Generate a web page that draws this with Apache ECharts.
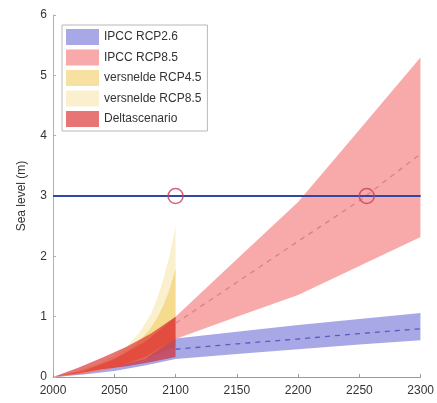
<!DOCTYPE html>
<html>
<head>
<meta charset="utf-8">
<script src="https://cdn.jsdelivr.net/npm/echarts@6/dist/echarts.min.js"></script>
<style>html,body{margin:0;padding:0;background:#fff}#c{width:437px;height:403px}</style>
</head>
<body>
<div id="c"></div>
<script>
// ---- data ----
var yearsIPCC = [2000, 2025, 2050, 2075, 2100, 2150, 2200, 2250, 2300];
var rcp26Low  = [0, 0.04, 0.10, 0.19, 0.30, 0.38, 0.46, 0.54, 0.61];
var rcp26High = [0, 0.07, 0.16, 0.30, 0.64, 0.75, 0.86, 0.96, 1.06];
var rcp85Low  = [0, 0.05, 0.15, 0.33, 0.63, 1.00, 1.36, 1.84, 2.32];
var rcp85High = [0, 0.10, 0.30, 0.58, 1.00, 1.95, 2.90, 4.10, 5.30];

var yearsMedian = [2100, 2150, 2200, 2250, 2300];
var rcp26Mid = [0.46, 0.55, 0.63, 0.72, 0.80];
var rcp85Mid = [0.89, 1.57, 2.25, 2.92, 3.70];

var yearsVers = [2000, 2020, 2040, 2050, 2060, 2070, 2080, 2085, 2090, 2095, 2100];
var vers45Low  = [0, 0.05, 0.12, 0.16, 0.21, 0.27, 0.34, 0.38, 0.42, 0.46, 0.50];
var vers45High = [0, 0.09, 0.22, 0.30, 0.42, 0.58, 0.82, 0.98, 1.18, 1.44, 1.80];
var vers85Low  = [0, 0.05, 0.12, 0.16, 0.21, 0.27, 0.34, 0.38, 0.42, 0.46, 0.50];
var vers85High = [0, 0.10, 0.25, 0.35, 0.50, 0.72, 1.05, 1.30, 1.62, 2.00, 2.50];

var yearsDelta = [2000, 2020, 2040, 2060, 2080, 2100];
var deltaLow  = [0, 0.06, 0.13, 0.18, 0.25, 0.33];
var deltaHigh = [0, 0.15, 0.32, 0.50, 0.72, 1.00];

var thresholdLevel = 3;
var thresholdYears = [2000, 2300];
var crossingYears = [2100, 2256];

var legendNames = ['IPCC RCP2.6', 'IPCC RCP8.5', 'versnelde RCP4.5', 'versnelde RCP8.5', 'Deltascenario'];

// ---- helpers ----
function pairs(xs, ys) { return xs.map(function (x, i) { return [x, ys[i]]; }); }

function band(name, xs, lo, hi, color) {
  var rows = xs.map(function (x, i) { return [x, lo[i], hi[i]]; });
  return {
    name: name, type: 'custom', data: rows, silent: true, z: 2,
    encode: { x: 0, y: [1, 2] },
    itemStyle: { color: color },
    renderItem: function (params, api) {
      if (params.dataIndex !== 0) return null;
      var pts = [];
      for (var i = 0; i < rows.length; i++) pts.push(api.coord([rows[i][0], rows[i][2]]));
      for (var j = rows.length - 1; j >= 0; j--) pts.push(api.coord([rows[j][0], rows[j][1]]));
      return {
        type: 'polygon',
        shape: { points: pts, smooth: 0 },
        style: { fill: color, stroke: null },
        clipPath: { type: 'rect', shape: { x: params.coordSys.x, y: params.coordSys.y, width: params.coordSys.width, height: params.coordSys.height } }
      };
    }
  };
}

var colors = {
  'IPCC RCP2.6': 'rgba(110,110,215,0.6)',
  'IPCC RCP8.5': 'rgba(244,112,112,0.6)',
  'versnelde RCP4.5': 'rgba(240,205,100,0.6)',
  'versnelde RCP8.5': 'rgba(245,228,165,0.55)',
  'Deltascenario': 'rgba(215,25,25,0.6)'
};

var series = [
  band('versnelde RCP8.5', yearsVers, vers85Low, vers85High, colors['versnelde RCP8.5']),
  band('versnelde RCP4.5', yearsVers, vers45Low, vers45High, colors['versnelde RCP4.5']),
  band('IPCC RCP2.6', yearsIPCC, rcp26Low, rcp26High, colors['IPCC RCP2.6']),
  band('IPCC RCP8.5', yearsIPCC, rcp85Low, rcp85High, colors['IPCC RCP8.5']),
  band('Deltascenario', yearsDelta, deltaLow, deltaHigh, colors['Deltascenario'])
];

series.push({ name: '_mid85', type: 'line', data: pairs(yearsMedian, rcp85Mid), symbol: 'none', silent: true,
  lineStyle: { color: '#df7f86', width: 1.3, type: [5, 5] }, z: 3 });
series.push({ name: '_mid26', type: 'line', data: pairs(yearsMedian, rcp26Mid), symbol: 'none', silent: true,
  lineStyle: { color: '#5a5ac4', width: 1.3, type: [5, 5] }, z: 3 });
series.push({ name: '_thr', type: 'line', data: thresholdYears.map(function (x) { return [x, thresholdLevel]; }),
  symbol: 'none', silent: true, lineStyle: { color: '#2f48a8', width: 2 }, z: 4 });
series.push({ name: '_cross', type: 'scatter', data: crossingYears.map(function (x) { return [x, thresholdLevel]; }),
  symbol: 'circle', symbolSize: 15, silent: true,
  itemStyle: { color: 'rgba(0,0,0,0)', borderColor: '#c8405a', borderWidth: 1.6 }, z: 5 });

var chart = echarts.init(document.getElementById('c'), null, { renderer: 'canvas' });
chart.setOption({
  animation: false,
  backgroundColor: '#fff',
  textStyle: { fontFamily: 'Liberation Sans, Arial, sans-serif' },
  grid: { left: 53, right: 14, top: 15, bottom: 26, containLabel: false },
  legend: {
    data: legendNames.map(function (n) { return { name: n, icon: 'rect', itemStyle: { color: colors[n] } }; }),
    orient: 'vertical', left: 62, top: 25,
    itemWidth: 33, itemHeight: 16, itemGap: 4.5,
    padding: [4, 6, 4, 4],
    backgroundColor: '#fff', borderColor: '#b8b8b8', borderWidth: 1,
    textStyle: { fontSize: 12, color: '#333', fontFamily: 'Liberation Sans, Arial, sans-serif' },
    selectedMode: false
  },
  xAxis: {
    type: 'value', min: 2000, max: 2300, interval: 50,
    axisLine: { show: true, lineStyle: { color: '#9a9a9a' } },
    axisTick: { show: true, inside: true, length: 3, lineStyle: { color: '#9a9a9a' } },
    axisLabel: { fontSize: 12, color: '#333', margin: 8, formatter: function (v) { return String(v); } },
    splitLine: { show: false }
  },
  yAxis: {
    type: 'value', min: 0, max: 6, interval: 1,
    name: 'Sea level (m)', nameLocation: 'middle', nameGap: 25,
    nameTextStyle: { fontSize: 12, color: '#333' },
    axisLine: { show: true, lineStyle: { color: '#b0b0b0' } },
    axisTick: { show: true, inside: true, length: 3, lineStyle: { color: '#b0b0b0' } },
    axisLabel: { fontSize: 12, color: '#333', margin: 6 },
    splitLine: { show: false }
  },
  series: series
});
</script>
</body>
</html>
